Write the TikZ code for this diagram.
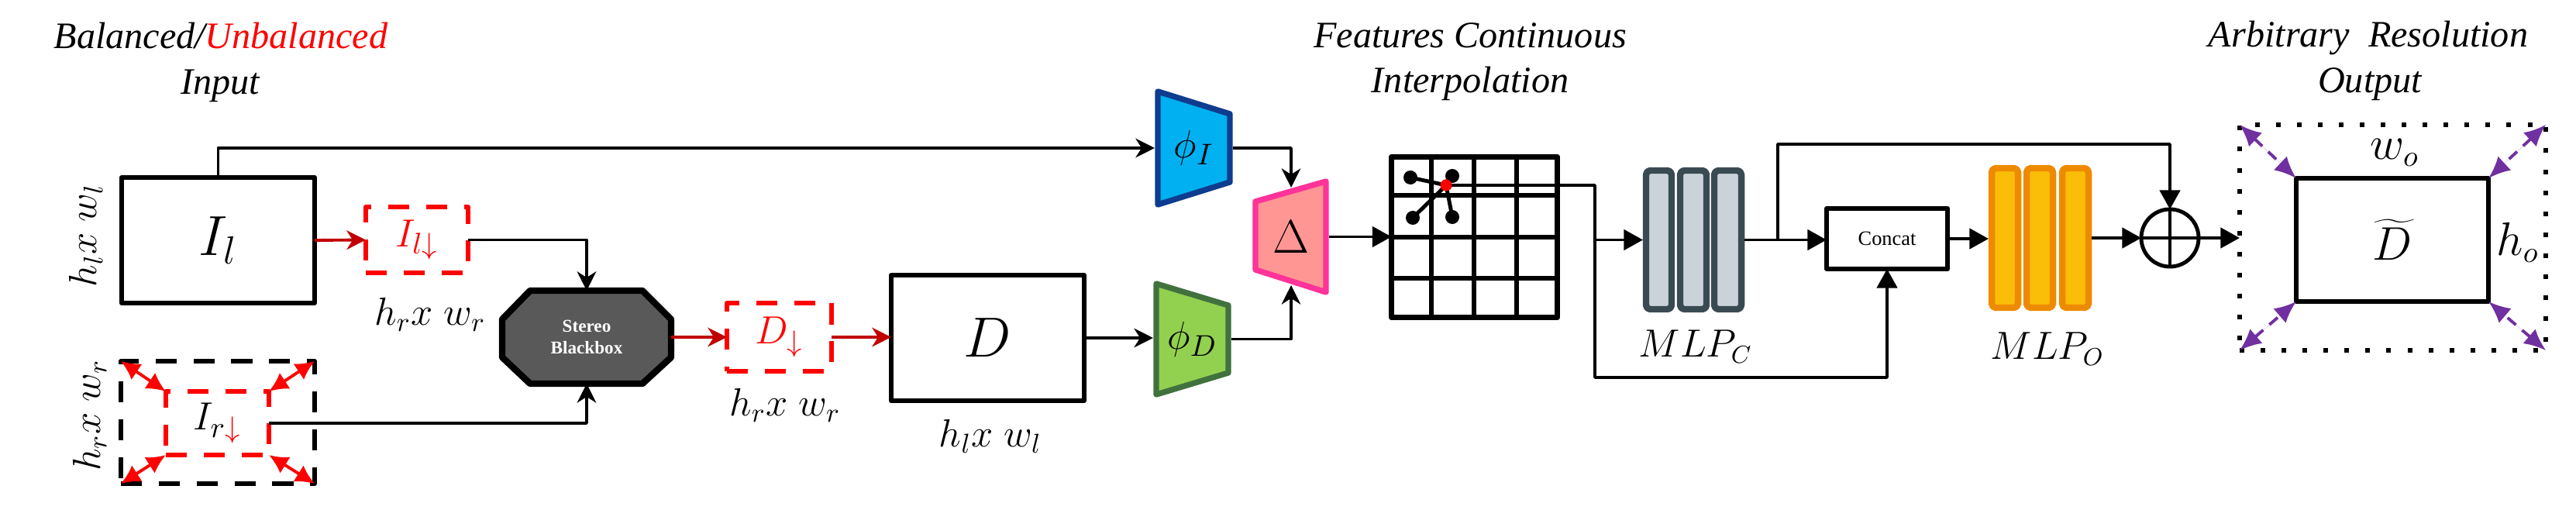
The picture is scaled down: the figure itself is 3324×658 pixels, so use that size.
\documentclass[tikz,border=0pt]{standalone}
\usepackage{fontspec}
\setmainfont{Liberation Serif}
\usetikzlibrary{arrows.meta,calc}
\definecolor{darkred}{HTML}{C00000}
\definecolor{phiIfill}{HTML}{00B0F0}
\definecolor{phiIdraw}{HTML}{0F3C8F}
\definecolor{phiDfill}{HTML}{92D050}
\definecolor{phiDdraw}{HTML}{41723E}
\definecolor{deltafill}{HTML}{FF9694}
\definecolor{deltadraw}{HTML}{FF3399}
\definecolor{mlpcfill}{HTML}{CAD3D9}
\definecolor{mlpcdraw}{HTML}{3A4A52}
\definecolor{mlpofill}{HTML}{FABD08}
\definecolor{mlpodraw}{HTML}{EE8A00}
\definecolor{boxgray}{HTML}{595959}
\definecolor{purp}{HTML}{7030A0}
\begin{document}
\begin{tikzpicture}[x=0.01cm,y=-0.01cm,line join=round,
  conn/.style={line width=1pt,draw=black},
  stk/.style={-{Stealth[length=7pt,width=7pt,inset=2.2pt]}},
  tri/.style={-{Triangle[length=7pt,width=7.5pt]}},
  redarr/.style={draw=darkred,line width=1.1pt,-{Stealth[length=7pt,width=7pt,inset=2.2pt]}},
  blackbox/.style={draw,line width=1.7pt,inner sep=0pt,outer sep=0pt},
  reddash/.style={draw=red,line width=1.7pt,dash pattern=on 7.7pt off 6.2pt,inner sep=0pt,outer sep=0pt},
  blackdash/.style={draw=black,line width=1.7pt,dash pattern=on 7.7pt off 6.2pt,inner sep=0pt,outer sep=0pt},
  title/.style={font=\fontsize{13.7}{16}\selectfont\itshape,inner sep=0pt},
  dimlabel/.style={font=\fontsize{14}{16}\selectfont,inner sep=0pt},
  bigmath/.style={font=\fontsize{22}{26}\selectfont},
  anchorbox/.style={inner sep=0pt,outer sep=0pt},
  dotnode/.style={circle,fill=black,inner sep=0pt,minimum size=0.18cm},
  redcorner/.style={draw=red,fill=red,line width=1.1pt,{Latex[length=7pt,width=7pt]}-{Latex[length=7pt,width=7pt]}},
  purpcorner/.style={draw=purp,fill=purp,line width=1.1pt,dash pattern=on 4pt off 3pt,{Latex[length=8pt,width=7pt]}-{Latex[length=8pt,width=7pt]}},
  mlpcbar/.style={draw=mlpcdraw,fill=mlpcfill,line width=2.4pt,rounded corners=1.5pt},
  mlpobar/.style={draw=mlpodraw,fill=mlpofill,line width=2.4pt,rounded corners=1.5pt},
]
\useasboundingbox (0,0) rectangle (3324,658);

% titles
\node[title,anchor=base] (t1) at (285,63) {Balanced/\textcolor{red}{Unbalanced}};
\node[title,anchor=base] (t2) at (284,122) {Input};
\node[title,anchor=base] (t3) at (1897,62) {Features Continuous};
\node[title,anchor=base] (t4) at (1897,120) {Interpolation};
\node[title,anchor=base] (t5) at (3056,61) {Arbitrary\ \ Resolution};
\node[title,anchor=base] (t6) at (3058,120) {Output};

% left inputs
\node[blackbox,bigmath,minimum width=2.49cm,minimum height=1.62cm] (Il) at (281.5,310) {$I_l$};
\node[dimlabel,rotate=90] (dl1) at (111,304) {$h_l x\; w_l$};
\node[reddash,text=red,font=\fontsize{15}{18}\selectfont,minimum width=1.32cm,minimum height=0.85cm] (Ild) at (538,309.5) {$I_{l\downarrow}$};
\node[dimlabel,anchor=base] (dr1) at (555,420) {$h_r x\; w_r$};

\node[blackdash,minimum width=2.50cm,minimum height=1.58cm] (Ir) at (281,545) {};
\node[reddash,font=\fontsize{15}{18}\selectfont,minimum width=1.33cm,minimum height=0.82cm] (Iri) at (280.5,546) {$I_{r{\color{red}\downarrow}}$};
\node[dimlabel,rotate=90] (dl2) at (116,536) {$h_r x\; w_r$};
\draw[redcorner] (Iri.north west) -- (Ir.north west);
\draw[redcorner] (Iri.north east) -- (Ir.north east);
\draw[redcorner] (Iri.south west) -- (Ir.south west);
\draw[redcorner] (Iri.south east) -- (Ir.south east);

% stereo blackbox
\draw[line width=2.4pt,fill=boxgray] (684,375) -- (829,375) -- (866,412) -- (866,461) -- (829,495) -- (684,495) -- (648,461) -- (648,412) -- cycle;
\node[anchorbox,minimum width=2.18cm,minimum height=1.20cm,text=white,font=\fontsize{6.6}{8}\selectfont\bfseries,align=center] (sb) at (757,435) {Stereo\\Blackbox};

% disparity
\node[reddash,text=red,font=\fontsize{15}{18}\selectfont,minimum width=1.35cm,minimum height=0.88cm] (Dd) at (1005.5,435) {$D_{\downarrow}$};
\node[dimlabel,anchor=base] (dr2) at (1013,537) {$h_r x\; w_r$};
\node[blackbox,bigmath,minimum width=2.49cm,minimum height=1.62cm] (D) at (1274.5,436) {$D$};
\node[dimlabel,anchor=base] (dl3) at (1278,577) {$h_l x\; w_l$};

% encoders
\draw[draw=phiIdraw,fill=phiIfill,line width=2.1pt] (1494,118) -- (1587,147) -- (1587,235) -- (1494,264) -- cycle;
\node[anchorbox,minimum width=1.01cm,minimum height=1.56cm,font=\fontsize{15}{18}\selectfont] (phiI) at (1540.5,191) {$\phi_I$};
\draw[draw=phiDdraw,fill=phiDfill,line width=2.1pt] (1492,366) -- (1585,394) -- (1585,481) -- (1492,509) -- cycle;
\node[anchorbox,minimum width=1.01cm,minimum height=1.53cm,font=\fontsize{15}{18}\selectfont] (phiD) at (1538.5,437.5) {$\phi_D$};
\draw[draw=deltadraw,fill=deltafill,line width=2.1pt] (1620,260) -- (1711,234) -- (1711,377) -- (1620,348) -- cycle;
\node[anchorbox,minimum width=0.99cm,minimum height=1.53cm,font=\fontsize{16}{19}\selectfont] (delta) at (1665.5,305.5) {$\Delta$};
\coordinate (dtop) at (1666,242);
\coordinate (dbot) at (1666,368);

% grid
\node[draw,line width=2.1pt,anchorbox,minimum width=2.14cm,minimum height=2.07cm] (grid) at (1902.5,306) {};
\foreach \gx in {1847,1902,1957} \draw[line width=1.7pt] (\gx,199) -- (\gx,413);
\foreach \gy in {252,306,359} \draw[line width=1.7pt] (1792,\gy) -- (2013,\gy);
\node[dotnode] (d1) at (1820,229) {};
\node[dotnode] (d2) at (1874,227) {};
\node[dotnode] (d3) at (1823,281) {};
\node[dotnode] (d4) at (1874,280) {};
\node[circle,fill=red,inner sep=0pt,minimum size=0.15cm] (rd) at (1866,239) {};
\foreach \d in {d1,d2,d3,d4} \draw[line width=1.4pt] (rd.center) -- (\d.center);

% MLPs
\draw[mlpcbar] (2124,220) rectangle (2157,399);
\draw[mlpcbar] (2168,220) rectangle (2202,399);
\draw[mlpcbar] (2212,220) rectangle (2247,399);
\node[anchorbox,minimum width=1.31cm,minimum height=1.87cm] (mlpc) at (2185.5,309.5) {};
\node[font=\fontsize{13.5}{16}\selectfont,inner sep=0pt] (mlpcL) at (2188,447) {$MLP_C$};
\node[blackbox,font=\fontsize{7.5}{9}\selectfont,minimum width=1.56cm,minimum height=0.78cm] (concat) at (2435,308) {Concat};
\draw[mlpobar] (2570,217) rectangle (2604,397);
\draw[mlpobar] (2615,217) rectangle (2649,397);
\draw[mlpobar] (2661,217) rectangle (2695,397);
\node[anchorbox,minimum width=1.33cm,minimum height=1.88cm] (mlpo) at (2632.5,307) {};
\node[font=\fontsize{13.5}{16}\selectfont,inner sep=0pt] (mlpoL) at (2642,450) {$MLP_O$};
\node[circle,draw,line width=1.4pt,minimum size=0.74cm,inner sep=0pt,outer sep=0pt] (plus) at (2800,307) {};
\draw[line width=1.4pt] (plus.north) -- (plus.south) (plus.west) -- (plus.east);

% output
\node[draw,line width=1.7pt,dash pattern=on 1.7pt off 6pt,anchorbox,minimum width=3.95cm,minimum height=2.91cm] (outbox) at (3087.5,306.5) {};
\node[blackbox,font=\fontsize{17}{20}\selectfont,minimum width=2.48cm,minimum height=1.59cm] (Dt) at (3087,309.5) {$\widetilde{D}$};
\node[font=\fontsize{16}{19}\selectfont,inner sep=0pt] (wo) at (3090,197) {$w_o$};
\node[font=\fontsize{16}{19}\selectfont,inner sep=0pt] (ho) at (3249,313) {$h_o$};
\draw[purpcorner] (outbox.north west) -- (Dt.north west);
\draw[purpcorner] (outbox.north east) -- (Dt.north east);
\draw[purpcorner] (outbox.south west) -- (Dt.south west);
\draw[purpcorner] (outbox.south east) -- (Dt.south east);

% connectors
\draw[conn,stk] (Il.north) |- (phiI.west);
\draw[redarr] (Il.east) -- (Ild.west);
\draw[conn,stk] (Ild.east) -| (sb.north);
\draw[conn,stk] (Iri.east) -| (sb.south);
\draw[redarr] (sb.east) -- (Dd.west);
\draw[redarr] (Dd.east) -- (Dd.east -| D.west);
\draw[conn,stk] (D.east) -- (D.east -| phiD.west);
\draw[conn,stk] (phiI.east) -| (dtop);
\draw[conn,stk] (phiD.east) -| (dbot);
\draw[conn,tri] (delta.east) -- (delta.east -| grid.west);
\coordinate (j1) at (2058,239);
\coordinate (j2) at (2058,487);
\draw[conn,tri] (rd.center) -- (j1) -- (j2) -| (concat.south);
\draw[conn,tri] (j1 |- mlpc.west) -- (mlpc.west);
\draw[conn,tri] (mlpc.east) -- (mlpc.east -| concat.west);
\coordinate (j3) at (2294,309.5);
\coordinate (j4) at (2294,186);
\draw[conn,tri] (j3) -- (j4) -| (plus.north);
\draw[conn,tri] (concat.east) -- (concat.east -| mlpo.west);
\draw[conn,tri] (mlpo.east) -- (plus.west);
\draw[conn,tri] (plus.east) -- (plus.east -| outbox.west);
\fill[red] (rd) circle[radius=0.075cm];
\end{tikzpicture}
\end{document}
